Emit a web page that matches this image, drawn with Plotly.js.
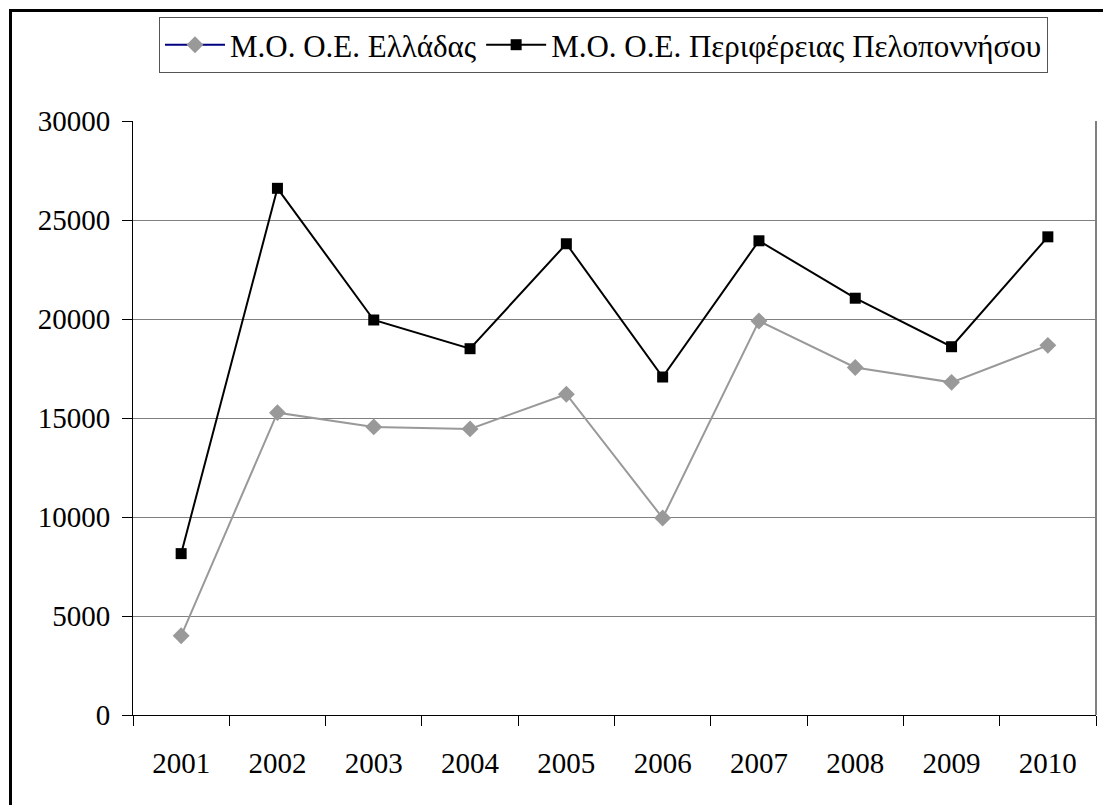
<!DOCTYPE html>
<html>
<head>
<meta charset="utf-8">
<script src="https://cdn.plot.ly/plotly-3.0.1.min.js"></script>
<style>
  html, body { margin: 0; padding: 0; background: #fff; }
  #wrap { position: relative; width: 1103px; height: 805px; overflow: hidden; }
  #chart { position: absolute; left: 0; top: 0; width: 1103px; height: 805px; }
  #frame { position: absolute; left: 9px; top: 9px; width: 1200px; height: 900px;
           border-top: 3px solid #000; border-left: 3px solid #000; pointer-events: none; }
</style>
</head>
<body>
<div id="wrap">
  <div id="chart"></div>
  <div id="frame"></div>
</div>
<script>
const years = ['2001','2002','2003','2004','2005','2006','2007','2008','2009','2010'];
const greeceAvg = [4000, 15270, 14550, 14450, 16200, 9950, 19900, 17550, 16800, 18670];
const peloponneseAvg = [8150, 26600, 19950, 18500, 23800, 17070, 23950, 21050, 18600, 24150];
const seriesNames = ['Μ.Ο. Ο.Ε. Ελλάδας', 'Μ.Ο. Ο.Ε. Περιφέρειας Πελοποννήσου'];
const yTicks = [0, 5000, 10000, 15000, 20000, 25000, 30000];

const FONT = '"Liberation Serif", "Times New Roman", serif';

const traces = [
  {
    x: years, y: greeceAvg, type: 'scatter', mode: 'lines+markers',
    name: seriesNames[0], showlegend: false,
    line: { color: '#999999', width: 2 },
    marker: { symbol: 'diamond', size: 13, color: '#999999' }
  },
  {
    // legend-only entry (the key shows a navy line with a grey diamond)
    x: [years[0]], y: [null], type: 'scatter', mode: 'lines+markers',
    name: seriesNames[0], showlegend: true, hoverinfo: 'skip',
    line: { color: '#000080', width: 2 },
    marker: { symbol: 'diamond', size: 13, color: '#999999' }
  },
  {
    x: years, y: peloponneseAvg, type: 'scatter', mode: 'lines+markers',
    name: seriesNames[1],
    line: { color: '#000000', width: 2 },
    marker: { symbol: 'square', size: 11, color: '#000000' }
  }
];

const layout = {
  width: 1103, height: 805,
  margin: { l: 133, r: 7, t: 121, b: 90, pad: 0 },
  paper_bgcolor: '#ffffff', plot_bgcolor: '#ffffff',
  font: { family: FONT, color: '#000', size: 29 },
  showlegend: true,
  legend: {
    orientation: 'h', x: 0.027, y: 1.175, xanchor: 'left', yanchor: 'top',
    bordercolor: '#555555', borderwidth: 1, bgcolor: '#ffffff',
    font: { family: FONT, size: 31, color: '#000' },
    itemwidth: 60, traceorder: 'normal'
  },
  xaxis: {
    type: 'category', categoryorder: 'array', categoryarray: years,
    range: [-0.5, 9.5], showgrid: false, zeroline: false,
    showline: true, linecolor: '#000', linewidth: 1,
    ticks: 'outside', tickson: 'boundaries', ticklen: 10, tickcolor: '#000', tickwidth: 1,
    tickfont: { family: FONT, size: 29, color: '#000' },
    ticklabelstandoff: 22
  },
  yaxis: {
    range: [0, 30000], tickvals: yTicks, ticktext: yTicks.map(String),
    showgrid: true, gridcolor: '#808080', gridwidth: 1, zeroline: false,
    showline: true, linecolor: '#000', linewidth: 1,
    ticks: 'outside', ticklen: 10, tickcolor: '#000', tickwidth: 1,
    tickfont: { family: FONT, size: 29, color: '#000' },
    ticklabelstandoff: 6
  },
  shapes: [
    { type: 'line', xref: 'paper', yref: 'paper', x0: 1, x1: 1, y0: 0, y1: 1,
      line: { color: '#808080', width: 2 } }
  ]
};

Plotly.newPlot('chart', traces, layout, { displayModeBar: false, staticPlot: true });
</script>
</body>
</html>
